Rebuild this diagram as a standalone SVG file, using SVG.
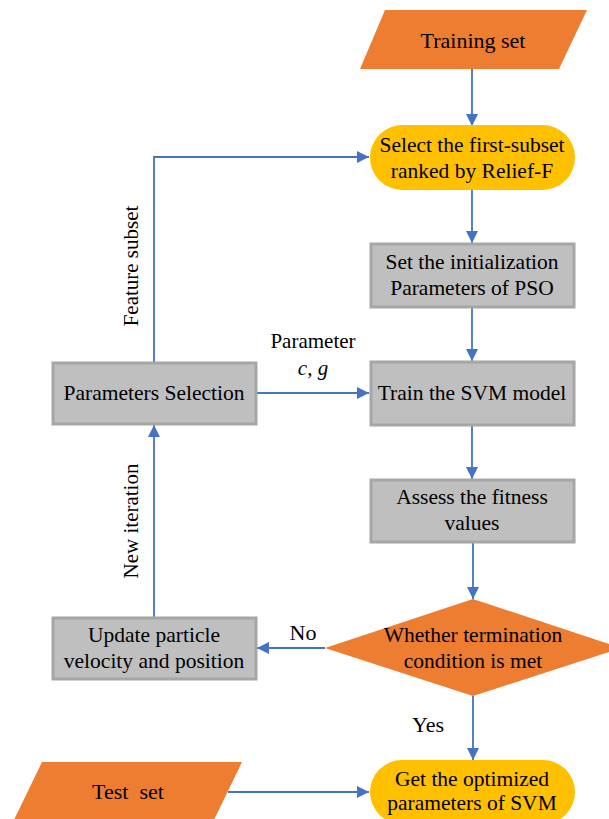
<svg xmlns="http://www.w3.org/2000/svg" width="609" height="819" viewBox="0 0 609 819">
<defs>
<marker id="ah" viewBox="0 0 12 12" refX="12" refY="6" markerWidth="12" markerHeight="12" markerUnits="userSpaceOnUse" orient="auto">
<path d="M0,0 L12,6 L0,12 Z" fill="#4472c4"/>
</marker>
</defs>
<rect width="609" height="819" fill="#fff"/>
<g id="connectors" fill="none" stroke="#4472c4" stroke-width="1.8">
<line x1="472" y1="69" x2="472" y2="126" marker-end="url(#ah)"/>
<line x1="472" y1="190" x2="472" y2="243" marker-end="url(#ah)"/>
<line x1="472" y1="307" x2="472" y2="361" marker-end="url(#ah)"/>
<line x1="472" y1="425" x2="472" y2="479" marker-end="url(#ah)"/>
<line x1="473" y1="542" x2="473" y2="599" marker-end="url(#ah)"/>
<line x1="473" y1="696" x2="473" y2="760" marker-end="url(#ah)"/>
<line x1="325" y1="648" x2="257" y2="648" marker-end="url(#ah)"/>
<line x1="228" y1="792" x2="369" y2="792" marker-end="url(#ah)"/>
<line x1="256" y1="393" x2="369" y2="393" marker-end="url(#ah)"/>
<line x1="154" y1="617" x2="154" y2="425" marker-end="url(#ah)"/>
<polyline points="154,362 154,157 369,157" marker-end="url(#ah)"/>
</g>
<g id="labels">
<text x="303" y="640" font-family="'Liberation Serif', serif" font-size="22" text-anchor="middle">No</text>
<text x="428" y="732" font-family="'Liberation Serif', serif" font-size="22" text-anchor="middle">Yes</text>
<text x="313" y="348" font-family="'Liberation Serif', serif" font-size="21" text-anchor="middle">Parameter</text>
<text x="313" y="375" font-family="'Liberation Serif', serif" font-size="21" font-style="italic" text-anchor="middle">c, g</text>
<text transform="translate(138,266) rotate(-90)" font-family="'Liberation Serif', serif" font-size="21" text-anchor="middle">Feature subset</text>
<text transform="translate(138,521) rotate(-90)" font-family="'Liberation Serif', serif" font-size="21" text-anchor="middle">New iteration</text>
</g>
<g id="training-set">
<polygon fill="#ed7d31" points="385,10 587,10 559,69 360,69"/>
<text x="473" y="48" font-family="'Liberation Serif', serif" font-size="22" text-anchor="middle">Training set</text>
</g>
<g id="select-subset">
<rect fill="#ffc000" x="370" y="125" width="205" height="65" rx="32.5"/>
<text x="472" y="152" font-family="'Liberation Serif', serif" font-size="21.5" text-anchor="middle">Select the first-subset</text>
<text x="472" y="178" font-family="'Liberation Serif', serif" font-size="21.5" text-anchor="middle">ranked by Relief-F</text>
</g>
<g id="init-pso">
<rect fill="#bfbfbf" stroke="#a6a6a6" stroke-width="3" x="371" y="244" width="203" height="63"/>
<text x="472" y="269" font-family="'Liberation Serif', serif" font-size="21.5" text-anchor="middle">Set the initialization</text>
<text x="472" y="295" font-family="'Liberation Serif', serif" font-size="21.5" text-anchor="middle">Parameters of PSO</text>
</g>
<g id="train-svm">
<rect fill="#bfbfbf" stroke="#a6a6a6" stroke-width="3" x="371" y="362" width="203" height="63"/>
<text x="472" y="400" font-family="'Liberation Serif', serif" font-size="21.5" text-anchor="middle">Train the SVM model</text>
</g>
<g id="assess">
<rect fill="#bfbfbf" stroke="#a6a6a6" stroke-width="3" x="371" y="480" width="203" height="62"/>
<text x="472" y="504" font-family="'Liberation Serif', serif" font-size="21.5" text-anchor="middle">Assess the fitness</text>
<text x="472" y="530" font-family="'Liberation Serif', serif" font-size="21.5" text-anchor="middle">values</text>
</g>
<g id="termination">
<polygon fill="#ed7d31" points="473,599 621,648 473,696 325,648"/>
<text x="473" y="642" font-family="'Liberation Serif', serif" font-size="21.5" text-anchor="middle">Whether termination</text>
<text x="473" y="668" font-family="'Liberation Serif', serif" font-size="21.5" text-anchor="middle">condition is met</text>
</g>
<g id="optimized">
<rect fill="#ffc000" x="370" y="760" width="205" height="64" rx="32"/>
<text x="472" y="786" font-family="'Liberation Serif', serif" font-size="21.5" text-anchor="middle">Get the optimized</text>
<text x="472" y="810" font-family="'Liberation Serif', serif" font-size="21.5" text-anchor="middle">parameters of SVM</text>
</g>
<g id="test-set">
<polygon fill="#ed7d31" points="42,762 242,762 213,822 13,822"/>
<text x="128" y="799" font-family="'Liberation Serif', serif" font-size="22" text-anchor="middle" xml:space="preserve">Test  set</text>
</g>
<g id="update">
<rect fill="#bfbfbf" stroke="#a6a6a6" stroke-width="3" x="53" y="618" width="203" height="61"/>
<text x="154" y="642" font-family="'Liberation Serif', serif" font-size="21.5" text-anchor="middle">Update particle</text>
<text x="154" y="668" font-family="'Liberation Serif', serif" font-size="21.5" text-anchor="middle">velocity and position</text>
</g>
<g id="param-selection">
<rect fill="#bfbfbf" stroke="#a6a6a6" stroke-width="3" x="53" y="363" width="203" height="61"/>
<text x="154" y="400" font-family="'Liberation Serif', serif" font-size="21.5" text-anchor="middle">Parameters Selection</text>
</g>
</svg>
